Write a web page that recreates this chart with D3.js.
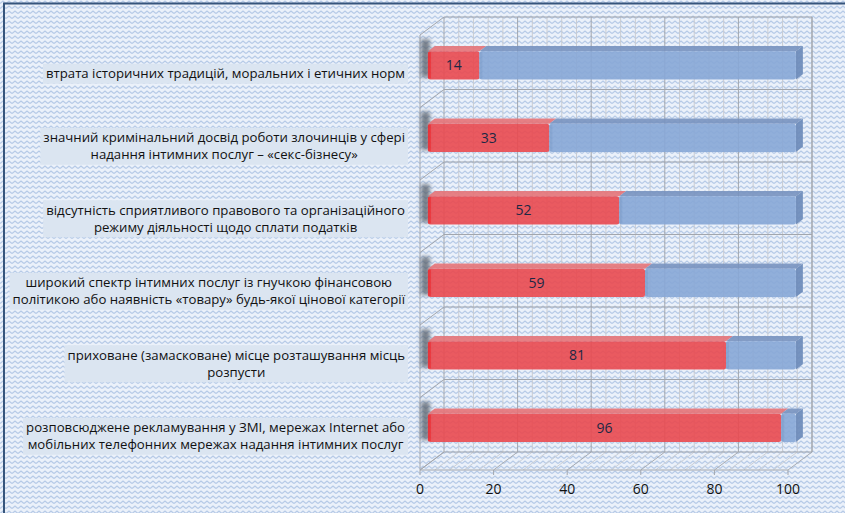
<!DOCTYPE html>
<html>
<head>
<meta charset="utf-8">
<script src="https://cdn.jsdelivr.net/npm/d3@7/dist/d3.min.js"></script>
<style>
  html, body { margin: 0; padding: 0; background: #fff; }
  svg { display: block; }
  text { font-family: "Open Sans", "Noto Sans", sans-serif; }
</style>
</head>
<body>
<div id="chart"></div>
<script>
// ---------- DATA ----------
const categories = [
  ["втрата історичних традицій, моральних і етичних норм"],
  ["значний кримінальний досвід роботи злочинців у сфері", "надання інтимних послуг – «секс-бізнесу»"],
  ["відсутність сприятливого правового та організаційного", "режиму діяльності щодо сплати податків"],
  ["широкий спектр інтимних послуг із гнучкою фінансовою", "політикою або наявність «товару» будь-якої цінової категорії"],
  ["приховане (замасковане) місце розташування місць", "розпусти"],
  ["розповсюджене рекламування у ЗМІ, мережах Internet або", "мобільних телефонних мережах надання інтимних послуг"]
];
const valuesYes = [14, 33, 52, 59, 81, 96];
const valuesRest = [86, 67, 48, 41, 19, 4];
const tickValues = [0, 20, 40, 60, 80, 100];

// ---------- LAYOUT ----------
const W = 845, H = 513;
const DX = 24, DY = -18;             // depth offset (front -> back)
const x = d3.scaleLinear().domain([0, 100]).range([420, 788]);
const y = d3.scaleBand().domain(d3.range(categories.length)).range([35, 470])
  .paddingInner(0.61).paddingOuter(0.305);
const step = y.step();
const proj = (v, yy, z) => [x(v) + z * DX, yy + z * DY];
const ZF = 0.33, ZB = 0.62;

const svg = d3.select("#chart").append("svg").attr("width", W).attr("height", H);
const defs = svg.append("defs");

// background weave pattern
const pat = defs.append("pattern").attr("id", "bg").attr("patternUnits", "userSpaceOnUse")
  .attr("width", 6).attr("height", 5);
pat.append("rect").attr("width", 6).attr("height", 5).attr("fill", "#ebf1fa");
pat.append("path").attr("d", "M0,3.5 L3,1 L6,3.5").attr("fill", "none")
  .attr("stroke", "#b6cae7").attr("stroke-width", 1.3);

const blur = defs.append("filter").attr("id", "blur").attr("x", "-50%").attr("y", "-50%")
  .attr("width", "200%").attr("height", "200%");
blur.append("feGaussianBlur").attr("stdDeviation", 2.2);

svg.append("rect").attr("width", W).attr("height", H).attr("fill", "url(#bg)");

// frame
svg.append("path").attr("d", `M4,${H} L4,3.5 L${W},3.5`).attr("fill", "none")
  .attr("stroke", "#36557c").attr("stroke-width", 2);

// ---------- 3D GRID ----------
const grid = svg.append("g").attr("fill", "none");
const minor = d3.range(0, 101, 4);
const yFront0 = 35, yFront1 = 470;
minor.forEach(v => {
  const a = proj(v, yFront0, 1), b = proj(v, yFront1, 1);
  grid.append("line").attr("x1", a[0]).attr("y1", a[1]).attr("x2", b[0]).attr("y2", b[1])
    .attr("stroke", v % 20 === 0 ? "#a2a6ad" : "#c9ccd2").attr("stroke-width", 1);
});
minor.forEach(v => {
  const a = proj(v, yFront1, 0), b = proj(v, yFront1, 1);
  grid.append("line").attr("x1", a[0]).attr("y1", a[1]).attr("x2", b[0]).attr("y2", b[1])
    .attr("stroke", v % 20 === 0 ? "#a9adb3" : "#ccd0d6").attr("stroke-width", 1);
});
d3.range(categories.length + 1).forEach(k => {
  const yy = yFront0 + k * step;
  const a = proj(0, yy, 1), b = proj(100, yy, 1), c = proj(0, yy, 0);
  grid.append("line").attr("x1", a[0]).attr("y1", a[1]).attr("x2", b[0]).attr("y2", b[1])
    .attr("stroke", "#a2a6ad");
  grid.append("line").attr("x1", c[0]).attr("y1", c[1]).attr("x2", a[0]).attr("y2", a[1])
    .attr("stroke", "#a2a6ad");
});
{
  const a = proj(0, yFront0, 0), b = proj(0, yFront1, 0);
  grid.append("line").attr("x1", a[0]).attr("y1", a[1]).attr("x2", b[0]).attr("y2", b[1]).attr("stroke", "#a2a6ad");
  const c = proj(100, yFront0, 1), d = proj(100, yFront1, 1);
  grid.append("line").attr("x1", c[0]).attr("y1", c[1]).attr("x2", d[0]).attr("y2", d[1]).attr("stroke", "#a2a6ad");
  const e = proj(0, yFront1, 0), f = proj(100, yFront1, 0);
  grid.append("line").attr("x1", e[0]).attr("y1", e[1]).attr("x2", f[0]).attr("y2", f[1]).attr("stroke", "#a2a6ad");
}
tickValues.forEach(v => {
  grid.append("line").attr("x1", x(v)).attr("x2", x(v)).attr("y1", yFront1).attr("y2", yFront1 + 5)
    .attr("stroke", "#a2a6ad");
});
svg.append("g").selectAll("text").data(tickValues).join("text")
  .attr("x", d => x(d)).attr("y", 494).attr("text-anchor", "middle")
  .attr("font-size", 14).attr("fill", "#111").text(d => d);

// ---------- BARS ----------
const bars = svg.append("g");
const series = [
  { vals: valuesYes, base: () => 0, front: "#ea4a50", top: "#e67478", side: "#c33a3f", edge: "#f41e22" },
  { vals: valuesRest, base: i => valuesYes[i], front: "#88a8d7", top: "#7893c0", side: "#6a89b9", edge: "#7b9bca" }
];
categories.forEach((cat, i) => {
  const yt = y(i), yb = y(i) + y.bandwidth();
  const s0 = proj(0, yt, ZF);
  bars.append("rect").attr("x", s0[0] - 7).attr("y", s0[1] - 12).attr("width", 9)
    .attr("height", yb - yt + 10).attr("fill", "#525b66").attr("opacity", 0.75)
    .attr("filter", "url(#blur)");
  series.forEach((s, si) => {
    const v0 = s.base(i), v1 = v0 + s.vals[i];
    const g = bars.append("g").attr("opacity", 0.9);
    const p = (v, yy, z) => proj(v, yy, z).join(",");
    g.append("polygon").attr("points",
      [p(v0, yt, ZF), p(v0, yt, ZB), p(v1, yt, ZB), p(v1, yt, ZF)].join(" "))
      .attr("fill", s.top);
    if (si === series.length - 1) {
      g.append("polygon").attr("points",
        [p(v1, yt, ZF), p(v1, yt, ZB), p(v1, yb, ZB), p(v1, yb, ZF)].join(" "))
        .attr("fill", s.side);
    }
    const a = proj(v0, yt, ZF), b = proj(v1, yb, ZF);
    g.append("rect").attr("x", a[0]).attr("y", a[1]).attr("width", Math.max(0, b[0] - a[0]))
      .attr("height", b[1] - a[1]).attr("rx", 2.5).attr("fill", s.front);
    g.append("rect").attr("x", a[0]).attr("y", a[1] + 1).attr("width", 3)
      .attr("height", b[1] - a[1] - 2).attr("fill", s.edge).attr("opacity", 0.7);
  });
  const a = proj(0, yt, ZF), b = proj(valuesYes[i], yb, ZF);
  bars.append("text").attr("x", (a[0] + b[0]) / 2).attr("y", (a[1] + b[1]) / 2)
    .attr("dy", "0.36em").attr("text-anchor", "middle").attr("font-size", 14)
    .attr("fill", "#1d2844").text(valuesYes[i]);
});

// ---------- CATEGORY LABELS ----------
const labRight = 405, lineH = 17;
const labels = svg.append("g");
categories.forEach((lines, i) => {
  const cy = y(i) + y.bandwidth() / 2 + 2.5;
  const g = labels.append("g");
  const bg = g.append("rect").attr("fill", "#dbe5f1");
  const texts = g.selectAll("text").data(lines).join("text")
    .attr("font-size", 13.2).attr("fill", "#111").attr("text-anchor", "middle")
    .attr("y", (d, k) => cy + (k - (lines.length - 1) / 2) * lineH).attr("dy", "0.35em")
    .text(d => d);
  let maxW = 0;
  texts.each(function () { maxW = Math.max(maxW, this.getComputedTextLength()); });
  const cx = labRight - maxW / 2;
  texts.attr("x", cx);
  const top = cy - (lines.length - 1) / 2 * lineH - 10;
  bg.attr("x", cx - maxW / 2 - 3).attr("y", top).attr("width", maxW + 6)
    .attr("height", (lines.length - 1) * lineH + 20);
});
</script>
</body>
</html>
